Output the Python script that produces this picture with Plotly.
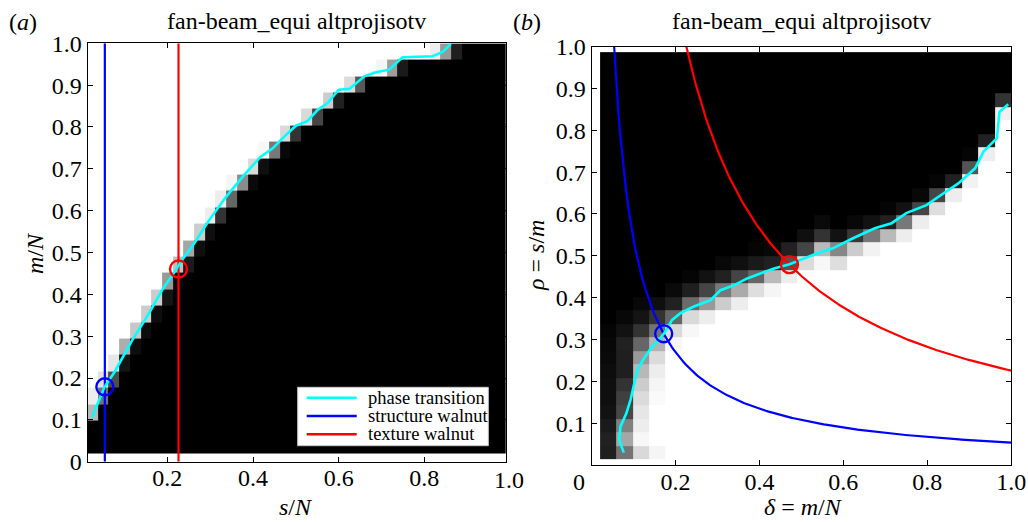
import numpy as np
import plotly.graph_objects as go

FONT = "Liberation Serif, Times New Roman, serif"
W, H = 1028, 522

# ---------------- grids ----------------
# panel (a): columns are s/N, rows are m/N
SN_GRID = [0.025, 0.050, 0.075, 0.100, 0.125, 0.150, 0.175, 0.200, 0.225, 0.250,
           0.275, 0.300, 0.325, 0.350, 0.375, 0.400, 0.425, 0.450, 0.475, 0.500,
           0.525, 0.550, 0.575, 0.600, 0.625, 0.650, 0.675, 0.700, 0.725, 0.750,
           0.775, 0.800, 0.825, 0.850, 0.875, 0.900, 0.925, 0.950, 0.975, 1.000]
MN_GRID = [0.040, 0.079, 0.118, 0.157, 0.196, 0.236, 0.275, 0.314, 0.353, 0.392,
           0.432, 0.471, 0.510, 0.549, 0.588, 0.628, 0.667, 0.706, 0.745, 0.784,
           0.824, 0.863, 0.902, 0.941, 0.980]
# panel (b): columns are delta = m/N, rows are rho = s/m
DELTA_GRID = MN_GRID
RHO_GRID = [0.030, 0.062, 0.095, 0.127, 0.160, 0.192, 0.224, 0.257, 0.289, 0.322,
            0.354, 0.386, 0.419, 0.451, 0.483, 0.516, 0.548, 0.581, 0.613, 0.645,
            0.678, 0.710, 0.742, 0.775, 0.807, 0.839, 0.872, 0.904, 0.937, 0.970]

# ---------------- recovery success (1 = success / white, 0 = failure / black) -------------
# panel (a), one entry per m/N row: (first column of the transition, transition values)
# columns before it are 1, columns after the listed values are 0
A_ROWS = [
    (0, []), (0, []), (0, [0.72]), (0, [0.93, 0.45]), (1, [0.88, 0.30]),
    (2, [0.90, 0.08]), (3, [0.68, 0.05]), (4, [0.78, 0.05]), (5, [0.80, 0.05]),
    (6, [0.80, 0.08]), (7, [0.60, 0.04]), (8, [0.75, 0.10]), (9, [0.65, 0.06]),
    (10, [0.80, 0.06]), (11, [0.93, 0.20]), (12, [0.93, 0.40]),
    (13, [0.96, 0.55, 0.04]), (15, [0.85, 0.06]), (16, [0.97, 0.47, 0.03]),
    (18, [0.85, 0.20]), (20, [0.85, 0.27]), (22, [0.80, 0.13]), (24, [0.86, 0.35]),
    (27, [0.96, 0.62, 0.10]), (32, [0.93, 0.60, 0.12]),
]
# panel (b), one entry per delta column: (first rho row of the transition, values upward)
B_COLS = [
    (0, [0.12, 0.13, 0.10, 0.07, 0.06, 0.06, 0.05, 0.04, 0.03, 0.02]),
    (0, [0.45, 0.65, 0.50, 0.28, 0.25, 0.20, 0.12, 0.12, 0.13, 0.07, 0.03]),
    (0, [0.85, 0.97, 0.93, 0.90, 0.86, 0.80, 0.72, 0.60, 0.40, 0.20, 0.08, 0.03]),
    (0, [0.96, 1.00, 1.00, 1.00, 0.98, 0.96, 0.93, 0.86, 0.70, 0.45, 0.20, 0.06]),
    (8, [0.97, 0.85, 0.40, 0.13, 0.04]),
    (9, [0.97, 0.85, 0.42, 0.12, 0.02]),
    (10, [0.93, 0.60, 0.27, 0.07]),
    (11, [0.80, 0.47, 0.13, 0.03]),
    (11, [0.93, 0.67, 0.27, 0.06]),
    (12, [0.87, 0.40, 0.10, 0.02]),
    (12, [0.96, 0.73, 0.13, 0.03]),
    (13, [0.93, 0.33, 0.13]),
    (14, [0.86, 0.27, 0.06]),
    (14, [0.97, 0.73, 0.20, 0.04]),
    (14, [0.87, 0.53, 0.07]),
    (15, [0.80, 0.22, 0.03]),
    (15, [0.95, 0.47, 0.07]),
    (16, [0.73, 0.13, 0.02]),
    (16, [0.93, 0.47, 0.07]),
    (17, [0.93, 0.27, 0.03]),
    (18, [0.87, 0.27, 0.02]),
    (19, [0.93, 0.13]),
    (20, [0.95, 0.33, 0.02]),
    (22, [0.93, 0.13]),
    (25, [0.94, 0.20]),
]

# ---------------- empirical phase transition curves ----------------
PT_A_SN = [0.024, 0.0535, 0.077, 0.116, 0.155, 0.190, 0.212, 0.2355, 0.263, 0.298,
           0.337, 0.379, 0.418, 0.446, 0.473, 0.500, 0.527, 0.551, 0.574, 0.600,
           0.625, 0.660, 0.687, 0.718, 0.749, 0.819, 0.842, 0.862]
PT_A_MN = [0.106, 0.179, 0.215, 0.287, 0.351, 0.414, 0.446, 0.484, 0.522, 0.578,
           0.633, 0.685, 0.729, 0.749, 0.777, 0.803, 0.814, 0.841, 0.857, 0.889,
           0.891, 0.921, 0.931, 0.937, 0.9665, 0.969, 0.979, 0.998]
PT_B_DELTA = [0.077, 0.066, 0.069, 0.083, 0.093, 0.101, 0.109, 0.125, 0.144, 0.160,
              0.176, 0.192, 0.212, 0.244, 0.284, 0.3075, 0.340, 0.371, 0.403, 0.435,
              0.472, 0.527, 0.575, 0.623, 0.675, 0.715, 0.750, 0.798, 0.838, 0.874,
              0.914, 0.934, 0.966, 0.972, 0.993]
PT_B_RHO = [0.030, 0.060, 0.092, 0.124, 0.156, 0.196, 0.227, 0.255, 0.283, 0.299,
            0.319, 0.347, 0.363, 0.379, 0.3945, 0.418, 0.430, 0.446, 0.458, 0.470,
            0.480, 0.502, 0.518, 0.542, 0.566, 0.578, 0.602, 0.621, 0.649, 0.673,
            0.709, 0.749, 0.781, 0.844, 0.862]

# ---------------- walnut datasets ----------------
WALNUT_NAMES = ["structure walnut", "texture walnut"]
WALNUT_COLORS = ["#0000ff", "#ff0000"]
WALNUT_SN = [0.054, 0.226]          # sparsity s/N of each walnut
WALNUT_MN_A = [0.179, 0.4605]       # crossing with the transition, panel (a)
WALNUT_DELTA_B = [0.172, 0.4717]    # crossing with the transition, panel (b)


def build_rows(rows, ncols):
    z = []
    for start, vals in rows:
        row = [1.0] * start + list(vals)
        row += [0.0] * (ncols - len(row))
        z.append(row)
    return z


z_a = build_rows(A_ROWS, len(SN_GRID))
z_b = np.array(build_rows(B_COLS, len(RHO_GRID))).T.tolist()

gray = [[0, "#000000"], [1, "#ffffff"]]

fig = go.Figure()
fig.add_trace(go.Heatmap(x=SN_GRID, y=MN_GRID, z=z_a, colorscale=gray, zmin=0, zmax=1,
                         showscale=False, hoverinfo="skip", xaxis="x", yaxis="y"))
fig.add_trace(go.Heatmap(x=DELTA_GRID, y=RHO_GRID, z=z_b, colorscale=gray, zmin=0, zmax=1,
                         showscale=False, hoverinfo="skip", xaxis="x2", yaxis="y2"))

# panel (a): walnut sparsity levels are vertical lines
for name, col, s in zip(WALNUT_NAMES, WALNUT_COLORS, WALNUT_SN):
    fig.add_trace(go.Scatter(x=[s, s], y=[0, 1], mode="lines", name=name,
                             line=dict(color=col, width=2.2), xaxis="x", yaxis="y"))
fig.add_trace(go.Scatter(x=PT_A_SN, y=PT_A_MN, mode="lines", name="phase transition",
                         line=dict(color="#00ffff", width=2.6), xaxis="x", yaxis="y"))
fig.add_trace(go.Scatter(x=WALNUT_SN, y=WALNUT_MN_A, mode="markers",
                         marker=dict(symbol="circle-open", size=17, color=WALNUT_COLORS,
                                     line=dict(width=2.4)),
                         xaxis="x", yaxis="y"))

# panel (b): fixed s/N gives rho = (s/N) / delta
for name, col, s in zip(WALNUT_NAMES, WALNUT_COLORS, WALNUT_SN):
    d = np.linspace(s, 1.0, 200)
    fig.add_trace(go.Scatter(x=d, y=s / d, mode="lines", name=name,
                             line=dict(color=col, width=2.2), xaxis="x2", yaxis="y2"))
fig.add_trace(go.Scatter(x=PT_B_DELTA, y=PT_B_RHO, mode="lines", name="phase transition",
                         line=dict(color="#00ffff", width=2.6), xaxis="x2", yaxis="y2"))
fig.add_trace(go.Scatter(x=WALNUT_DELTA_B,
                         y=[s / d for s, d in zip(WALNUT_SN, WALNUT_DELTA_B)],
                         mode="markers",
                         marker=dict(symbol="circle-open", size=17, color=WALNUT_COLORS,
                                     line=dict(width=2.4)),
                         xaxis="x2", yaxis="y2"))


def px(x):
    return x / W


def py(y):
    return 1 - y / H


axis_style = dict(showline=True, linecolor="black", linewidth=1, mirror="allticks",
                  ticks="inside", ticklen=5, tickwidth=1, tickcolor="black",
                  showgrid=False, zeroline=False, automargin=False,
                  tickfont=dict(family=FONT, size=24, color="black"))

Y_TICKS = [0.1, 0.2, 0.3, 0.4, 0.5, 0.6, 0.7, 0.8, 0.9, 1.0]
Y_TEXT = ["0.1", "0.2", "0.3", "0.4", "0.5", "0.6", "0.7", "0.8", "0.9", "1.0"]

fig.update_layout(
    width=W, height=H, margin=dict(l=0, r=0, t=0, b=0),
    paper_bgcolor="white", plot_bgcolor="white", showlegend=False,
    font=dict(family=FONT, size=24, color="black"),
    xaxis=dict(domain=[px(87.5), px(505.7)], range=[0.0135, 0.99], anchor="y",
               tickvals=[0.2, 0.4, 0.6, 0.8], ticktext=["0.2", "0.4", "0.6", "0.8"],
               ticklabelstandoff=-6, **axis_style),
    yaxis=dict(domain=[py(461.7), py(43.3)], range=[0, 1], anchor="x",
               tickvals=[0] + Y_TICKS, ticktext=["0"] + Y_TEXT, **axis_style),
    xaxis2=dict(domain=[px(591.5), px(1011.2)], range=[0, 1], anchor="y2",
                tickvals=[0.2, 0.4, 0.6, 0.8, 1.0],
                ticktext=["0.2", "0.4", "0.6", "0.8", "1.0"],
                ticklabelstandoff=-5, **axis_style),
    yaxis2=dict(domain=[py(465.2), py(46.5)], range=[0, 1], anchor="x2",
                tickvals=Y_TICKS, ticktext=Y_TEXT, **axis_style),
)


def note(text, x, y, size=24, angle=0, xanchor="center", yanchor="middle"):
    return dict(text=text, x=px(x), y=py(y), xref="paper", yref="paper",
                showarrow=False, textangle=angle, xanchor=xanchor, yanchor=yanchor,
                font=dict(family=FONT, size=size, color="black"))


TITLE = "fan-beam_equi altprojisotv"
annotations = [
    note("(<i>a</i>)", 23, 22),
    note("(<i>b</i>)", 527, 22),
    note(TITLE, 296.6, 21),
    note(TITLE, 801, 21),
    note("<i>s</i>/<i>N</i>", 296, 522, yanchor="bottom"),
    note("<i>m</i>/<i>N</i>", 35, 253, angle=-90),
    note("<i>δ</i> = <i>m</i>/<i>N</i>", 803, 522, yanchor="bottom"),
    note("<i>ρ</i> = <i>s</i>/<i>m</i>", 536, 256, angle=-90),
    note("1.0", 509, 480),
    note("0", 579, 482),
]

# legend of panel (a)
LEG_X0, LEG_X1, LEG_Y0, LEG_Y1 = 297.7, 488.3, 387.3, 445.7
LEG_ROWS_Y = [397.7, 416.0, 434.3]
legend_items = [("phase transition", "#00ffff"),
                ("structure walnut", WALNUT_COLORS[0]),
                ("texture walnut", WALNUT_COLORS[1])]
shapes = [dict(type="rect", xref="paper", yref="paper",
               x0=px(LEG_X0), x1=px(LEG_X1), y0=py(LEG_Y1), y1=py(LEG_Y0),
               fillcolor="white", line=dict(color="#c8c8c8", width=1))]
for (label, col), yy in zip(legend_items, LEG_ROWS_Y):
    shapes.append(dict(type="line", xref="paper", yref="paper",
                       x0=px(306.7), x1=px(356.7), y0=py(yy), y1=py(yy),
                       line=dict(color=col, width=2.6)))
    annotations.append(note(label, 365.7, yy, size=18.5, xanchor="left"))

fig.update_layout(annotations=annotations, shapes=shapes)
fig.write_html("out.html")
